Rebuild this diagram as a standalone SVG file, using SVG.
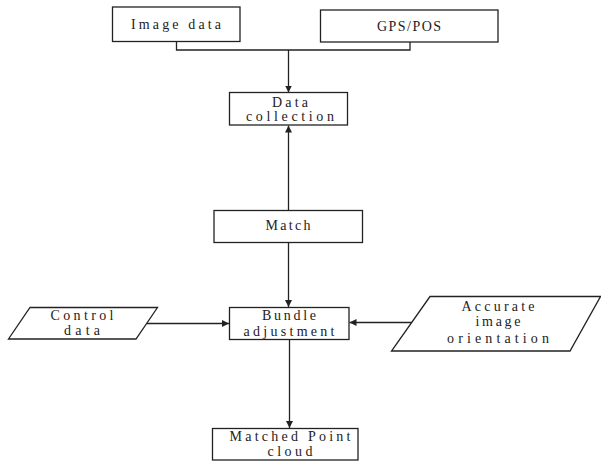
<svg xmlns="http://www.w3.org/2000/svg" width="601" height="461" viewBox="0 0 601 461">
<defs>
<style>
.b{fill:#fff;stroke:#222;stroke-width:1.3}
.c{fill:none;stroke:#222;stroke-width:1.3}
text{font-family:"Liberation Serif","Noto Serif",serif;font-size:14px;fill:#222;text-anchor:middle}
</style>
<marker id="a" viewBox="0 0 10 10" refX="10" refY="5" markerWidth="7" markerHeight="7" markerUnits="userSpaceOnUse" orient="auto">
<path d="M0,0L10,5L0,10z" fill="#222"/>
</marker>
</defs>
<g id="connectors">
<path class="c" d="M176.5,41.5V50H410V42"/>
<path class="c" d="M288.5,50V92.5" stroke-width="2" marker-end="url(#a)"/>
<path class="c" d="M288.5,210.5V125.5" marker-end="url(#a)"/>
<path class="c" d="M288.5,242.5V307" marker-end="url(#a)"/>
<path class="c" d="M147,323.5H229" marker-end="url(#a)"/>
<path class="c" d="M411.5,322.5H349.5" marker-end="url(#a)"/>
<path class="c" d="M289.5,339.5V428" marker-end="url(#a)"/>
</g>
<g id="image-data"><rect class="b" x="112.5" y="7" width="127.5" height="34.5"/><text x="176" y="28.5" textLength="90" lengthAdjust="spacing">Image data</text></g>
<g id="gps-pos"><rect class="b" x="320.5" y="10" width="177.5" height="32"/><text x="409" y="30.5" textLength="64" lengthAdjust="spacing">GPS/POS</text></g>
<g id="data-collection"><rect class="b" x="229.5" y="92.5" width="118" height="32.5"/><text x="290" y="106.5" textLength="36" lengthAdjust="spacing">Data</text><text x="290" y="121" textLength="88" lengthAdjust="spacing">collection</text></g>
<g id="match"><rect class="b" x="214" y="210.5" width="148.5" height="32"/><text x="288" y="229.5" textLength="45" lengthAdjust="spacing">Match</text></g>
<g id="bundle-adjustment"><rect class="b" x="229.5" y="307.5" width="119.5" height="32"/><text x="289" y="320" textLength="54" lengthAdjust="spacing">Bundle</text><text x="289" y="335.5" textLength="91" lengthAdjust="spacing">adjustment</text></g>
<g id="control-data"><path class="b" d="M30,307.5H157.5L136,339H8.5z"/><text x="82" y="319.5" textLength="63" lengthAdjust="spacing">Control</text><text x="82" y="335" textLength="36" lengthAdjust="spacing">data</text></g>
<g id="accurate-orientation"><path class="b" d="M430,296.5H600.5L570,351H391.5z"/><text x="498" y="311" textLength="73" lengthAdjust="spacing">Accurate</text><text x="498" y="325.5" textLength="45" lengthAdjust="spacing">image</text><text x="498" y="343" textLength="102" lengthAdjust="spacing">orientation</text></g>
<g id="matched-point-cloud"><rect class="b" x="212.5" y="428.5" width="145.5" height="31.5"/><text x="290" y="440.5" textLength="121" lengthAdjust="spacing">Matched Point</text><text x="290" y="455.5" textLength="45" lengthAdjust="spacing">cloud</text></g>
</svg>
